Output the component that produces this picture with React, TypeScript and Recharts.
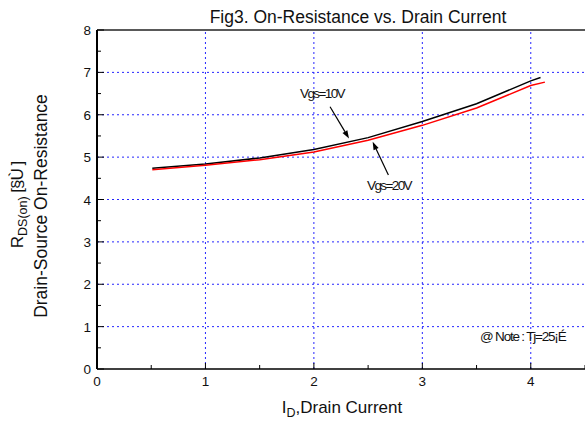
import React from "react";
import { LineChart, Line, XAxis, YAxis, ReferenceLine, ReferenceDot, Label } from "recharts";

const FONT = "'Liberation Sans', Arial, sans-serif";

// Drain current (A) and on-resistance values
const vgs10Current = [0.51, 1.0, 1.5, 2.0, 2.5, 3.0, 3.5, 4.0, 4.09];
const vgs10Resistance = [4.74, 4.84, 4.98, 5.18, 5.46, 5.84, 6.26, 6.8, 6.88];
const vgs20Current = [0.51, 1.0, 1.5, 2.0, 2.5, 3.0, 3.5, 4.0, 4.13];
const vgs20Resistance = [4.7, 4.81, 4.94, 5.12, 5.4, 5.75, 6.16, 6.69, 6.77];

const xTicks = [0, 0.5, 1, 1.5, 2, 2.5, 3, 3.5, 4, 4.5];
const yTicks = [0, 0.5, 1, 1.5, 2, 2.5, 3, 3.5, 4, 4.5, 5, 5.5, 6, 6.5, 7, 7.5, 8];
const xGrid = [1, 2, 3, 4];
const yGrid = [1, 2, 3, 4, 5, 6, 7];

const title = "Fig3. On-Resistance vs. Drain Current";
const xLabelMain = "I";
const xLabelSub = "D";
const xLabelRest = ",Drain Current";
const yLabel1Main = "R";
const yLabel1Sub = "DS(on)";
const yLabel1Rest = " [§Ù ]";
const yLabel2 = "Drain-Source On-Resistance";

const label10 = { x: 2.075, y: 6.49, text: "Vgs=10V" };
const label20 = { x: 2.693, y: 4.32, text: "Vgs=20V" };
const arrow10 = [{ x: 2.149, y: 6.19 }, { x: 2.324, y: 5.44 }];
const arrow20 = [{ x: 2.687, y: 4.58 }, { x: 2.542, y: 5.36 }];
const note = { x: 4.32, y: 0.76, text: "@ Note : Tj=25¡É" };

const vgs10Data = vgs10Current.map((c, i) => ({ id: c, r: vgs10Resistance[i] }));
const vgs20Data = vgs20Current.map((c, i) => ({ id: c, r: vgs20Resistance[i] }));

const XTick = (props: any) => {
  const { x, y, payload } = props;
  const v = payload.value;
  const major = Number.isInteger(v);
  return (
    <g>
      <line x1={x} y1={y} x2={x} y2={y - (major ? 6 : 4)} stroke="#000" strokeWidth={1} />
      {major && v <= 4 ? (
        <text x={x} y={y + 17} textAnchor="middle" fontSize={13.5} fontFamily={FONT} fill="#111">
          {v}
        </text>
      ) : null}
    </g>
  );
};

const YTick = (props: any) => {
  const { x, y, payload } = props;
  const v = payload.value;
  const major = Number.isInteger(v);
  return (
    <g>
      <line x1={x} y1={y} x2={x + (major ? 7 : 4)} y2={y} stroke="#000" strokeWidth={1} />
      {major ? (
        <text x={x - 6} y={y + 5} textAnchor="end" fontSize={13.5} fontFamily={FONT} fill="#111">
          {v}
        </text>
      ) : null}
    </g>
  );
};

const Arrow = (props: any) => {
  const { x1, y1, x2, y2 } = props;
  const dx = x2 - x1;
  const dy = y2 - y1;
  const len = Math.sqrt(dx * dx + dy * dy) || 1;
  const ux = dx / len;
  const uy = dy / len;
  const hl = 8;
  const hw = 2.8;
  const bx = x2 - ux * hl;
  const by = y2 - uy * hl;
  const pts = `${x2},${y2} ${bx - uy * hw},${by + ux * hw} ${bx + uy * hw},${by - ux * hw}`;
  return (
    <g>
      <line x1={x1} y1={y1} x2={bx} y2={by} stroke="#000" strokeWidth={1.2} />
      <polygon points={pts} fill="#000" />
    </g>
  );
};

const makeTextShape = (text: string, anchor: string, size: number, spacing: number) => (p: any) => (
  <text
    x={p.cx}
    y={p.cy}
    textAnchor={anchor}
    dominantBaseline="central"
    fontSize={size}
    letterSpacing={spacing}
    fontFamily={FONT}
    fill="#111"
  >
    {text}
  </text>
);

const YLabelContent = () => (
  <g fontFamily={FONT} fill="#111">
    <text transform="translate(22.5,205) rotate(-90)" textAnchor="middle" fontSize={17}>
      {yLabel1Main}
      <tspan fontSize={12.5} dy={4}>{yLabel1Sub}</tspan>
      <tspan dy={-4} letterSpacing={-1}>{yLabel1Rest}</tspan>
    </text>
    <text transform="translate(47,206) rotate(-90)" textAnchor="middle" fontSize={17.5}>
      {yLabel2}
    </text>
  </g>
);

const XLabelContent = () => (
  <text x={342} y={413} textAnchor="middle" fontSize={17} fontFamily={FONT} fill="#111">
    {xLabelMain}
    <tspan fontSize={12.5} dy={4}>{xLabelSub}</tspan>
    <tspan dy={-4}>{xLabelRest}</tspan>
  </text>
);

const TitleContent = () => (
  <text x={358} y={23} textAnchor="middle" fontSize={17.5} fontFamily={FONT} fill="#111">
    {title}
  </text>
);

export default function App() {
  return (
    <div style={{ position: "absolute", left: 0, top: 0, width: 585, height: 421, background: "#fff" }}>
      <LineChart width={585} height={421} margin={{ top: 30, right: 0, bottom: 0, left: 0 }}>
        <XAxis
          dataKey="id"
          type="number"
          domain={[0, 4.5]}
          ticks={xTicks}
          interval={0}
          height={52}
          tickSize={0}
          tickMargin={0}
          tickLine={false}
          tick={<XTick />}
          axisLine={{ stroke: "#000", strokeWidth: 1.6 }}
          allowDataOverflow
        >
          <Label content={<XLabelContent />} />
        </XAxis>
        <YAxis
          type="number"
          domain={[0, 8]}
          ticks={yTicks}
          interval={0}
          width={97}
          tickSize={0}
          tickMargin={0}
          tickLine={false}
          tick={<YTick />}
          axisLine={{ stroke: "#000", strokeWidth: 2 }}
          allowDataOverflow
        >
          <Label content={<YLabelContent />} />
          <Label content={<TitleContent />} />
        </YAxis>
        {xGrid.map((v) => (
          <ReferenceLine key={"gx" + v} x={v} stroke="#2525ff" strokeWidth={1} strokeDasharray="2 3" />
        ))}
        {yGrid.map((v) => (
          <ReferenceLine key={"gy" + v} y={v} stroke="#2525ff" strokeWidth={1} strokeDasharray="2 3" />
        ))}
        <ReferenceLine y={8} stroke="#222" strokeWidth={1.6} />
        <Line
          data={vgs10Data}
          dataKey="r"
          type="linear"
          stroke="#000"
          strokeWidth={1.5}
          dot={false}
          isAnimationActive={false}
        />
        <Line
          data={vgs20Data}
          dataKey="r"
          type="linear"
          stroke="#ff0000"
          strokeWidth={1.5}
          dot={false}
          isAnimationActive={false}
        />
        <ReferenceLine segment={arrow10} shape={<Arrow />} />
        <ReferenceLine segment={arrow20} shape={<Arrow />} />
        <ReferenceDot x={label10.x} y={label10.y} r={0} shape={makeTextShape(label10.text, "middle", 13.5, -1.6)} />
        <ReferenceDot x={label20.x} y={label20.y} r={0} shape={makeTextShape(label20.text, "middle", 13.5, -1.6)} />
        <ReferenceDot x={note.x} y={note.y} r={0} shape={makeTextShape(note.text, "end", 13.5, -1.2)} />
      </LineChart>
    </div>
  );
}
